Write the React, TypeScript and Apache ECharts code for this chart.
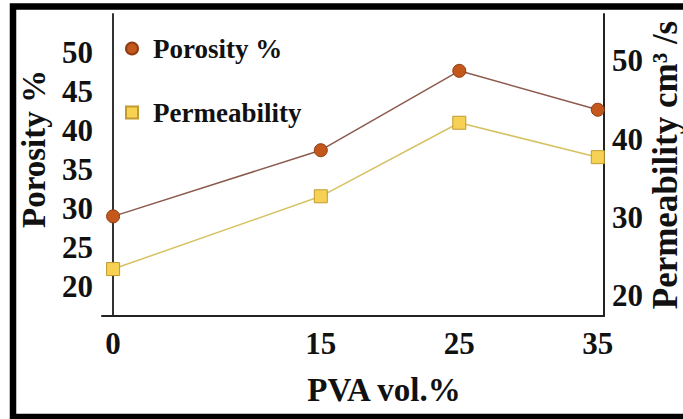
import React, { useEffect, useRef } from "react";
import * as echarts from "echarts";

const pvaVol = [0, 15, 25, 35];
const porosity = [29, 37.5, 47.7, 42.7];
const permeability = [23.4, 32.7, 42.1, 37.7];
const leftTicks = [20, 25, 30, 35, 40, 45, 50];
const rightTicks = [20, 30, 40, 50];
const xTicks = [0, 15, 25, 35];

const FONT = '"Liberation Serif", "Times New Roman", serif';

export default function App() {
  const ref = useRef<HTMLDivElement>(null);
  useEffect(() => {
    if (!ref.current) return;
    const chart = echarts.init(ref.current, null, { renderer: "svg" });
    const axisLabelBase = {
      fontFamily: FONT,
      fontWeight: "bold" as const,
      fontSize: 31,
      color: "#111",
    };
    chart.setOption({
      animation: false,
      backgroundColor: "#fff",
      grid: { left: 102, right: 79, top: 14, bottom: 103, containLabel: false },
      legend: {
        orient: "vertical",
        left: 120,
        top: 30,
        itemGap: 37,
        itemWidth: 12,
        itemHeight: 12,
        textStyle: {
          fontFamily: FONT,
          fontWeight: "bold",
          fontSize: 27,
          color: "#111",
          padding: [0, 0, 0, 10],
        },
        data: [
          { name: "Porosity %", icon: "circle" },
          { name: "Permeability", icon: "rect" },
        ],
      },
      xAxis: {
        type: "value",
        min: -0.8,
        max: 35.45,
        splitLine: { show: false },
        axisTick: { show: false },
        axisLine: { show: true, lineStyle: { color: "#222", width: 2 } },
        axisLabel: { ...axisLabelBase, margin: 12, customValues: xTicks },
      },
      yAxis: [
        {
          type: "value",
          min: 16.2,
          max: 55,
          position: "left",
          splitLine: { show: false },
          axisTick: { show: false },
          axisLine: { show: true, lineStyle: { color: "#333", width: 2 } },
          axisLabel: { ...axisLabelBase, margin: 9, customValues: leftTicks },
        },
        {
          type: "value",
          min: 17.4,
          max: 56,
          position: "right",
          splitLine: { show: false },
          axisTick: { show: false },
          axisLine: { show: true, lineStyle: { color: "#222", width: 2 } },
          axisLabel: { ...axisLabelBase, margin: 8, customValues: rightTicks },
        },
      ],
      series: [
        {
          name: "Porosity %",
          type: "line",
          yAxisIndex: 0,
          data: pvaVol.map((x, i) => [x, porosity[i]]),
          symbol: "circle",
          symbolSize: 13,
          itemStyle: { color: "#C4581C", borderColor: "#8E3C12", borderWidth: 1 },
          lineStyle: { color: "#8C5A4C", width: 1.5 },
        },
        {
          name: "Permeability",
          type: "line",
          yAxisIndex: 1,
          data: pvaVol.map((x, i) => [x, permeability[i]]),
          symbol: "rect",
          symbolSize: 13,
          itemStyle: { color: "#F6D154", borderColor: "#C29A2E", borderWidth: 1 },
          lineStyle: { color: "#D6C262", width: 1.5 },
        },
      ],
      graphic: [
        {
          type: "rect",
          shape: { x: 13, y: 6.5, width: 720, height: 410.5 },
          style: { fill: "none", stroke: "#000", lineWidth: 6.5 },
          silent: true,
        },
        {
          type: "text",
          x: 34,
          y: 149,
          rotation: Math.PI / 2,
          style: {
            text: "Porosity %",
            fontFamily: FONT,
            fontWeight: "bold",
            fontSize: 33,
            fill: "#111",
            align: "center",
            verticalAlign: "middle",
          },
        },
        {
          type: "text",
          x: 665,
          y: 165,
          rotation: Math.PI / 2,
          style: {
            text: "Permeability cm³ /s",
            fontFamily: FONT,
            fontWeight: "bold",
            fontSize: 35,
            fill: "#111",
            align: "center",
            verticalAlign: "middle",
          },
        },
        {
          type: "text",
          x: 384,
          y: 390,
          style: {
            text: "PVA vol.%",
            fontFamily: FONT,
            fontWeight: "bold",
            fontSize: 33,
            fill: "#111",
            align: "center",
            verticalAlign: "middle",
          },
        },
      ],
    });
    return () => chart.dispose();
  }, []);
  return (
    <div
      ref={ref}
      style={{ position: "fixed", left: 0, top: 0, width: 683, height: 419 }}
    />
  );
}
